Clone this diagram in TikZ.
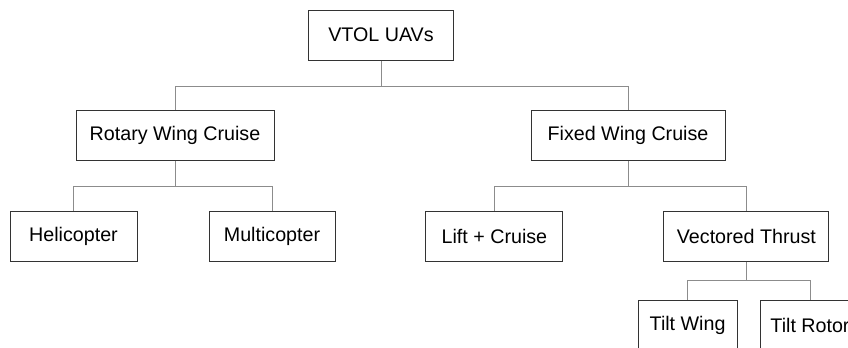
\documentclass[tikz,border=0pt]{standalone}
\usepackage{fontspec}
\setmainfont{Liberation Sans}
\begin{document}
\begin{tikzpicture}[
    box/.style={draw=black!80,line width=.7pt,minimum height=1.25cm,inner sep=0,font=\fontsize{14}{16}\selectfont},
    link/.style={draw=black!45,line width=.7pt}
]
\useasboundingbox (0,0) rectangle (21.2,-8.675);
\clip (0,0) rectangle (21.2,-8.675);

%levels
\node[box,minimum width=3.625cm] at (9.525,-0.875)(uav){VTOL UAVs};
\node[box,minimum width=4.95cm] at (4.375,-3.375)(rotary){Rotary Wing Cruise};
\node[box,minimum width=4.85cm] at (15.7,-3.375)(fixed){Fixed Wing Cruise};
\node[box,minimum width=3.175cm] at (1.8375,-5.9)(heli){Helicopter};
\node[box,minimum width=3.15cm] at (6.8,-5.9)(multi){Multicopter};
\node[box,minimum width=3.425cm] at (12.36,-5.9)(lift){Lift + Cruise};
\node[box,minimum width=4.125cm] at (18.66,-5.9)(vector){Vectored Thrust};
\node[box,minimum width=2.475cm] at (17.19,-8.125)(tiltwing){Tilt Wing};
\node[box,minimum width=2.5cm] at (20.25,-8.125)(tiltrotor){Tilt Rotor};

%connectors
\draw[link] (uav.south) -- ++(0,-.65) coordinate (j0);
\draw[link] (rotary.north) |- (j0) -| (fixed.north);
\draw[link] (rotary.south) -- ++(0,-.65) coordinate (j1);
\draw[link] (heli.north) |- (j1) -| (multi.north);
\draw[link] (fixed.south) -- ++(0,-.65) coordinate (j2);
\draw[link] (lift.north) |- (j2) -| (vector.north);
\draw[link] (vector.south) -- ++(0,-.475) coordinate (j3);
\draw[link] (tiltwing.north) |- (j3) -| (tiltrotor.north);

\end{tikzpicture}
\end{document}
